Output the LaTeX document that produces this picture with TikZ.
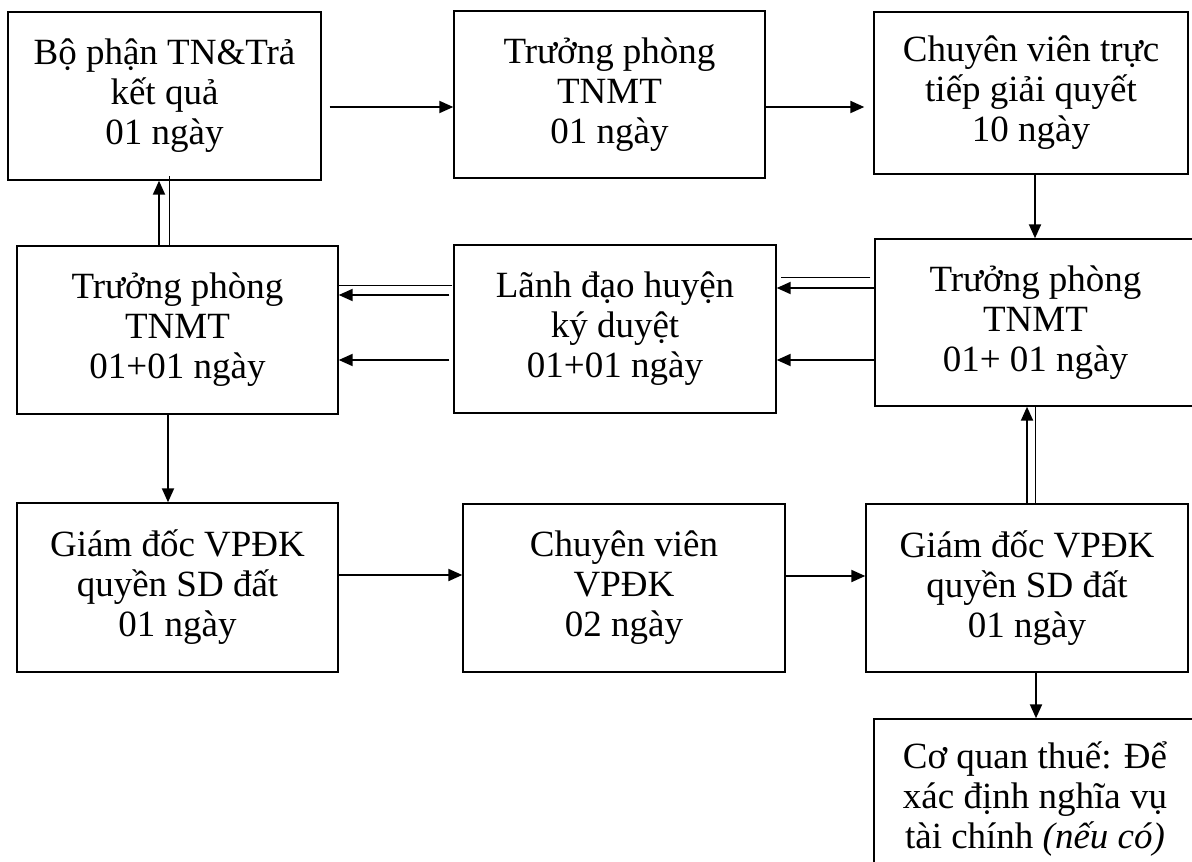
\documentclass[tikz,border=0pt]{standalone}
\usepackage{fontspec}
\setmainfont{Liberation Serif}
\usetikzlibrary{arrows.meta}

\tikzset{
	box/.style={draw, rectangle, line width=0.7pt, inner sep=0pt, align=center,
		font=\fontsize{18.5}{20}\selectfont},
	arr/.style={line width=1pt, -{Triangle[length=7pt, width=6pt]}},
	thin line/.style={line width=0.5pt}
}

\begin{document}
\begin{tikzpicture}[x=0.5pt, y=-0.5pt]
\useasboundingbox (0,0) rectangle (1192,861);

% hang tren
\node[box, minimum width=156.5pt, minimum height=84pt] (bophan) at (164.5,96) {Bộ phận TN\&Trả\\kết quả\\01 ngày};
\node[box, minimum width=155.5pt, minimum height=83.5pt] (tp1) at (609.5,94.5) {Trưởng phòng\\TNMT\\01 ngày};
\node[box, minimum width=157pt, minimum height=81pt] (cv) at (1031,93) {Chuyên viên trực\\tiếp giải quyết\\10 ngày};

% hang giua
\node[box, minimum width=160.5pt, minimum height=84pt] (tp3) at (177.5,330) {Trưởng phòng\\TNMT\\01+01 ngày};
\node[box, minimum width=161pt, minimum height=84pt] (ld) at (615,329) {Lãnh đạo huyện\\ký duyệt\\01+01 ngày};
\node[box, minimum width=160.5pt, minimum height=83.5pt] (tp2) at (1035.5,322.5) {Trưởng phòng\\TNMT\\01+ 01 ngày};

% hang duoi
\node[box, minimum width=160.5pt, minimum height=84.5pt] (gd1) at (177.5,587.5) {Giám đốc VPĐK\\quyền SD đất\\01 ngày};
\node[box, minimum width=161pt, minimum height=84pt] (cvdk) at (624,588) {Chuyên viên\\VPĐK\\02 ngày};
\node[box, minimum width=161pt, minimum height=84pt] (gd2) at (1027,588) {Giám đốc VPĐK\\quyền SD đất\\01 ngày};
\node[box, minimum width=161pt, minimum height=80.5pt] (thue) at (1035,799.5) {Cơ quan thuế: Để\\xác định nghĩa vụ\\tài chính \textit{(nếu có)}};

% mui ten
\draw[arr] ([shift={(8,11)}]bophan.east) -- ([shift={(0,12.5)}]tp1.west);
\draw[arr] ([shift={(0,12.5)}]tp1.east) -- ([shift={(-9,14)}]cv.west);
\draw[arr] ([shift={(4,0)}]cv.south) -- ([shift={(-0.5,0)}]tp2.north);

\draw[arr] ([shift={(0,-34.5)}]tp2.west) -- ([shift={(0,-41)}]ld.east);
\draw[thin line] ([shift={(-4,-45.5)}]tp2.west) -- ([shift={(4,-52)}]ld.east);
\draw[arr] ([shift={(0,37.5)}]tp2.west) -- ([shift={(0,31)}]ld.east);

\draw[arr] ([shift={(-4,-34)}]ld.west) -- ([shift={(0,-35)}]tp3.east);
\draw[thin line] ([shift={(-1,-44)}]ld.west) -- ([shift={(-2,-45)}]tp3.east);
\draw[arr] ([shift={(-4,31)}]ld.west) -- ([shift={(0,30)}]tp3.east);

\draw[arr] ([shift={(-18.5,0)}]tp3.north) -- ([shift={(-5.5,0)}]bophan.south);
\draw[thin line] ([shift={(-8.5,0)}]tp3.north) -- ([shift={(4.5,-5)}]bophan.south);
\draw[arr] ([shift={(-9.5,0)}]tp3.south) -- ([shift={(-9.5,0)}]gd1.north);

\draw[arr] ([shift={(0,-12.5)}]gd1.east) -- ([shift={(0,-13)}]cvdk.west);
\draw[arr] ([shift={(0,-12)}]cvdk.east) -- ([shift={(0,-12)}]gd2.west);

\draw[arr] ([shift={(0,0)}]gd2.north) -- ([shift={(-8.5,0)}]tp2.south);
\draw[thin line] ([shift={(8,0)}]gd2.north) -- ([shift={(-0.5,0)}]tp2.south);
\draw[arr] ([shift={(9,0)}]gd2.south) -- ([shift={(1,0)}]thue.north);

\end{tikzpicture}
\end{document}
